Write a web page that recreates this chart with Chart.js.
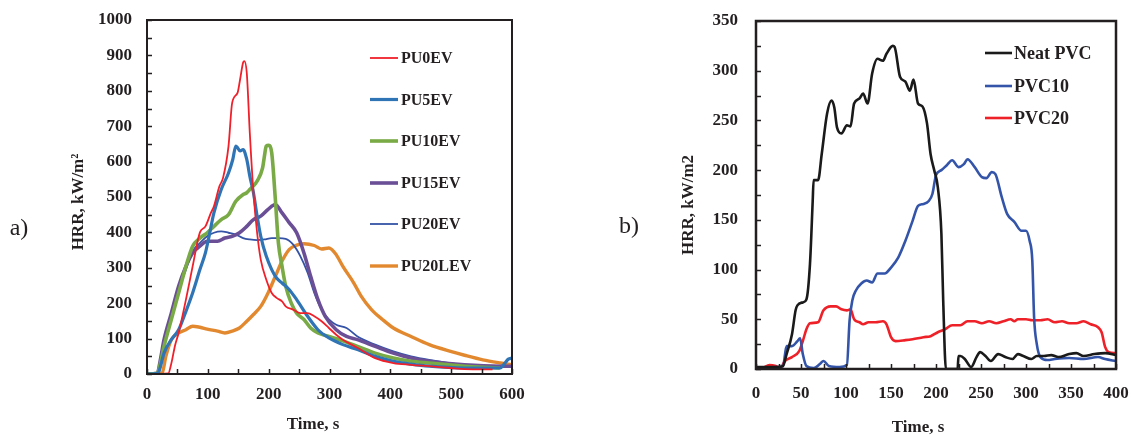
<!DOCTYPE html>
<html>
<head>
<meta charset="utf-8">
<script src="https://cdn.jsdelivr.net/npm/chart.js@4.4.0/dist/chart.umd.min.js"></script>
<style>
html,body{margin:0;padding:0;background:#fff;}
#wrap{position:relative;width:1131px;height:436px;overflow:hidden;background:#fff;}
canvas{position:absolute;top:0;}
</style>
</head>
<body>
<div id="wrap">
<canvas id="c1" width="565" height="436" style="left:0"></canvas>
<canvas id="c2" width="566" height="436" style="left:565px"></canvas>
</div>
<script>
// ---------- Panel a) data ----------
const seriesA = ['PU0EV','PU5EV','PU10EV','PU15EV','PU20EV','PU20LEV'];
const pu0evT = [0,35,40,46,52,64,75,87,96,105,110,119,125,134,140,149,153,158,160,164,169,175,181,187,196,205,213,222,228,240,252,264,275,287,299,311,322,346,375,405,434,464,499,522,568];
const pu0evV = [0,2,30,80,116,210,304,400,417,455,474,530,554,644,766,795,832,880,884,851,681,512,399,323,267,229,215,205,191,182,172,172,163,149,130,111,97,74,45,31,26,22,17,14,13];
const pu5evT = [0,18,22,28,40,52,64,75,87,96,102,110,122,134,141,146,149,153,158,164,169,175,181,187,196,205,213,222,234,246,264,281,299,322,346,375,405,434,464,522,581,588,594,600];
const pu5evV = [0,2,20,59,97,125,177,229,295,342,389,455,521,568,606,644,639,630,634,606,559,512,446,389,333,295,271,257,238,210,163,125,102,83,69,50,36,28,22,17,17,30,42,45];
const pu10evT = [0,17,22,28,40,52,64,75,87,99,110,122,134,146,158,164,169,181,190,193,196,200,205,211,216,222,228,237,246,258,269,281,299,316,346,375,405,434,464,522,552,580];
const pu10evV = [0,2,30,78,154,229,304,361,384,399,417,436,450,488,507,512,521,545,582,615,644,646,625,493,370,304,248,201,172,154,130,116,106,97,78,59,45,36,31,22,19,17];
const pu15evT = [0,17,22,28,40,52,64,75,87,99,116,128,140,152,164,175,187,199,211,222,234,246,258,269,281,293,311,328,346,375,405,434,464,522,581,600];
const pu15evV = [0,2,40,97,172,248,304,342,361,375,375,384,389,399,417,436,446,465,479,455,427,399,342,276,210,163,125,106,97,78,59,45,36,26,22,22];
const pu20evT = [0,17,22,28,40,52,64,75,87,99,110,122,134,146,158,169,181,193,205,216,228,240,252,264,275,287,299,311,328,346,375,405,434,464,522,581,600];
const pu20evV = [0,2,35,88,163,238,295,347,370,389,399,403,399,394,384,380,378,380,384,384,382,366,333,286,229,182,154,139,130,106,83,64,50,40,26,22,22];
const pu20levT = [0,25,31,40,52,64,75,87,99,116,128,140,152,164,175,187,199,211,222,234,246,258,275,287,299,311,322,340,352,369,387,405,434,464,499,522,552,581,600];
const pu20levV = [0,3,50,97,116,125,135,132,127,121,116,121,130,149,168,191,229,276,319,352,364,368,363,353,356,337,304,257,220,182,154,130,106,83,64,53,40,31,26];

// ---------- Panel b) data ----------
const seriesB = ['Neat PVC','PVC10','PVC20'];
const neatT = [0,16,24,30,34,40,44,46,52,56,60,63,64,69,73,79,84,87,90,95,101,105,109,115,119,124,129,135,141,145,152,154,160,166,171,175,180,185,190,194,198,202,206,208,211,224,225,227,232,239,245,249,255,261,269,277,285,291,297,306,312,320,328,336,348,356,364,376,388,400];
const neatV = [2,2,2,3,15,35,59,64,67,70,106,169,190,190,216,257,270,263,243,237,245,244,267,272,277,267,297,312,310,317,325,324,294,289,280,291,267,264,247,216,200,183,136,69,0,0,13,13,10,2,12,17,13,8,15,12,10,15,13,10,13,13,14,12,15,16,13,15,16,14];
const pvc10T = [0,24,30,34,40,46,49,52,56,64,71,75,81,93,101,104,107,111,117,123,129,135,143,150,158,166,174,180,186,192,196,200,206,212,218,225,231,235,243,251,256,262,266,273,279,287,295,300,304,307,309,312,316,324,332,348,364,380,388,400];
const pvc10V = [1,2,3,23,23,28,31,15,3,1,5,8,3,2,4,49,69,79,86,89,87,96,96,102,112,129,149,164,166,169,176,195,200,205,210,203,206,211,203,193,192,198,196,173,156,148,139,139,129,109,52,25,12,9,10,11,10,12,10,8];
const pvc20T = [0,6,15,22,27,32,40,48,52,56,60,69,75,83,89,95,101,105,109,115,119,125,133,141,145,150,155,166,174,186,194,202,210,218,227,235,243,251,259,267,275,283,287,291,300,307,316,324,332,340,348,356,364,372,380,384,388,392,400];
const pvc20V = [2,1,4,3,1,8,12,18,28,40,46,47,59,63,63,60,59,60,50,47,45,47,47,48,45,32,28,29,30,32,33,37,40,44,44,48,48,46,48,46,48,50,48,50,50,49,49,50,47,48,46,46,48,45,42,37,22,17,16];

// tick settings
const xTicksA = {min:0, max:600, step:50, labelEvery:100};
const yTicksA = {min:0, max:1000, step:50, labelEvery:100};
const xTicksB = {min:0, max:400, step:25, labelEvery:50};
const yTicksB = {min:0, max:350, step:25, labelEvery:50};

const TXT = '#231f20';
const SERIF = '"Liberation Serif", "Times New Roman", serif';

function pts(t, v){ return t.map((x,i)=>({x:x, y:v[i]})); }

const framePlugin = {
  id:'frame',
  afterDatasetsDraw(chart, args, o){
    const {ctx, chartArea:{left,top,right,bottom}, scales:{x,y}} = chart;
    ctx.save();
    ctx.strokeStyle = TXT;
    ctx.lineWidth = o.tickWidth;
    ctx.beginPath();
    x.ticks.forEach(t=>{ const p = Math.round(x.getPixelForValue(t.value))+0.5; ctx.moveTo(p,bottom); ctx.lineTo(p,bottom-o.tickLen); });
    y.ticks.forEach(t=>{ const p = Math.round(y.getPixelForValue(t.value))+0.5; ctx.moveTo(left,p); ctx.lineTo(left+o.tickLen,p); });
    ctx.stroke();
    ctx.lineWidth = o.lineWidth;
    ctx.strokeRect(left, top, right-left, bottom-top);
    ctx.restore();
  },
  afterDraw(chart, args, o){
    const ctx = chart.ctx;
    ctx.save();
    ctx.fillStyle = TXT;
    ctx.font = o.letterFont;
    ctx.textAlign = 'center'; ctx.textBaseline = 'middle';
    ctx.fillText(o.letter, o.letterX, o.letterY);
    ctx.font = o.titleFont;
    ctx.fillText(o.xTitle, o.xTitleX, o.xTitleY);
    ctx.save();
    ctx.translate(o.yTitleX, o.yTitleY);
    ctx.rotate(-Math.PI/2);
    ctx.fillText(o.yTitle, 0, 0);
    ctx.restore();
    ctx.textAlign = 'left';
    ctx.font = o.legendFont;
    chart.data.datasets.forEach((d,i)=>{
      const yy = o.legendY[i];
      ctx.strokeStyle = d.borderColor;
      ctx.lineWidth = d.borderWidth;
      ctx.beginPath(); ctx.moveTo(o.legendX1, yy); ctx.lineTo(o.legendX2, yy); ctx.stroke();
      ctx.fillStyle = TXT;
      ctx.fillText(d.label, o.legendTextX, yy+1);
    });
    ctx.restore();
  }
};

function makeScale(tk, width, height, pad){
  return {
    type:'linear', min:tk.min, max:tk.max,
    grid:{display:false, drawTicks:false},
    border:{display:false},
    ticks:{
      stepSize:tk.step, autoSkip:false, maxRotation:0, padding:pad, color:TXT,
      font:{family:SERIF, size:17, weight:'bold'},
      callback:(v)=> (Math.round(v) % tk.labelEvery === 0 ? String(v) : '')
    },
    afterFit:(sc)=>{
      if (width !== null) sc.width = width;
      if (height !== null) sc.height = height;
      sc.paddingLeft = 0; sc.paddingRight = 0; sc.paddingTop = 0; sc.paddingBottom = 0;
    }
  };
}

function ds(label, t, v, color, w){
  return {label:label, data:pts(t,v), borderColor:color, backgroundColor:color, borderWidth:w,
          pointRadius:0, fill:false, cubicInterpolationMode:'monotone', tension:0.4};
}

new Chart(document.getElementById('c1'), {
  type:'line',
  data:{datasets:[
    ds(seriesA[0], pu0evT, pu0evV, '#f0202a', 1.8),
    ds(seriesA[1], pu5evT, pu5evV, '#2f74b5', 3.2),
    ds(seriesA[2], pu10evT, pu10evV, '#79aa45', 3.6),
    ds(seriesA[3], pu15evT, pu15evV, '#6b4f96', 3.6),
    ds(seriesA[4], pu20evT, pu20evV, '#3553a6', 1.8),
    ds(seriesA[5], pu20levT, pu20levV, '#e2892f', 3.4)
  ]},
  options:{
    responsive:false, animation:false, devicePixelRatio:1,
    layout:{padding:{left:0, top:20, right:53, bottom:0}},
    scales:{ x: makeScale(xTicksA, null, 62, 10), y: makeScale(yTicksA, 147, null, 15) },
    plugins:{
      legend:{display:false}, tooltip:{enabled:false},
      frame:{
        lineWidth:2, tickWidth:1.5, tickLen:5,
        letter:'a)', letterX:19, letterY:229, letterFont:'24px '+SERIF,
        xTitle:'Time, s', xTitleX:313, xTitleY:425, titleFont:'bold 17px '+SERIF,
        yTitle:'HRR, kW/m\u00B2', yTitleX:79, yTitleY:202,
        legendFont:'bold 16px '+SERIF,
        legendX1:370, legendX2:398, legendTextX:401,
        legendY:[58,99.5,141,183,224,266]
      }
    }
  },
  plugins:[framePlugin]
});

new Chart(document.getElementById('c2'), {
  type:'line',
  data:{datasets:[
    ds(seriesB[0], neatT, neatV, '#1a1a1a', 2.6),
    ds(seriesB[1], pvc10T, pvc10V, '#3354a8', 2.6),
    ds(seriesB[2], pvc20T, pvc20V, '#ee2028', 2.6)
  ]},
  options:{
    responsive:false, animation:false, devicePixelRatio:1,
    layout:{padding:{left:0, top:21, right:15, bottom:0}},
    scales:{ x: makeScale(xTicksB, null, 67, 14), y: makeScale(yTicksB, 191, null, 18) },
    plugins:{
      legend:{display:false}, tooltip:{enabled:false},
      frame:{
        lineWidth:2.5, tickWidth:1.5, tickLen:5,
        letter:'b)', letterX:64, letterY:227, letterFont:'24px '+SERIF,
        xTitle:'Time, s', xTitleX:353, xTitleY:428, titleFont:'bold 17px '+SERIF,
        yTitle:'HRR, kW/m2', yTitleX:124, yTitleY:205,
        legendFont:'bold 18px '+SERIF,
        legendX1:420, legendX2:447, legendTextX:449,
        legendY:[53,86,118]
      }
    }
  },
  plugins:[framePlugin]
});
</script>
</body>
</html>
